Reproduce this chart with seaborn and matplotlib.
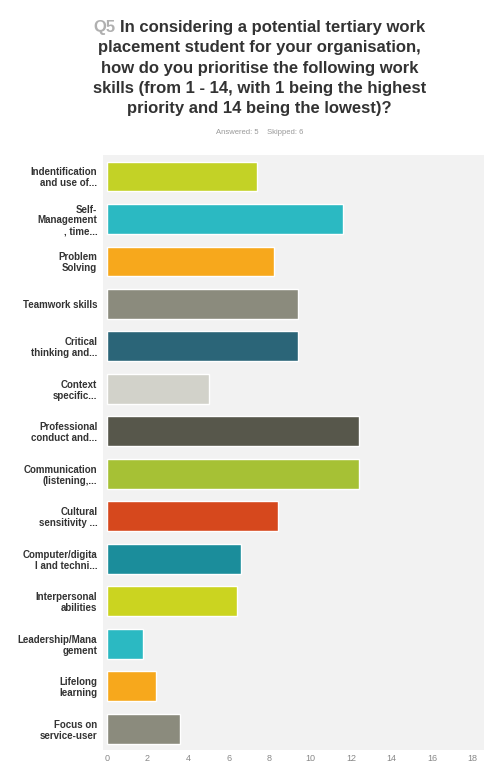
import pandas as pd
import seaborn as sns
import matplotlib.pyplot as plt

# Rótulos das habilidades (como aparecem no gráfico, truncados)
habilidades = [
    'Indentification\nand use of...',
    'Self-\nManagement\n, time...',
    'Problem\nSolving',
    'Teamwork skills',
    'Critical\nthinking and...',
    'Context\nspecific...',
    'Professional\nconduct and...',
    'Communication\n(listening,...',
    'Cultural\nsensitivity ...',
    'Computer/digita\nl and techni...',
    'Interpersonal\nabilities',
    'Leadership/Mana\ngement',
    'Lifelong\nlearning',
    'Focus on\nservice-user',
]
media = [7.4, 11.6, 8.2, 9.4, 9.4, 5.0, 12.4, 12.4, 8.4, 6.6, 6.4, 1.8, 2.4, 3.6]
cores = ['#c3d226', '#2bb9c2', '#f7a81c', '#8b8b7d', '#2b6578', '#d2d2ca', '#57574b',
         '#a6c135', '#d6481d', '#1b8d9b', '#cbd420', '#2bb9c2', '#f7a81c', '#8b8b7d']
ticks_x = [0, 2, 4, 6, 8, 10, 12, 14, 16, 18]

df = pd.DataFrame({'habilidade': habilidades, 'media': media})

sns.set_style('white')
plt.rcParams['font.family'] = ['Liberation Sans', 'DejaVu Sans']

fig = plt.figure(figsize=(4.85, 7.72), dpi=100)
ax = fig.add_axes([0.212, 0.0285, 0.788, 0.7705])
ax.set_facecolor('#f2f2f2')

sns.barplot(data=df, x='media', y='habilidade', hue='habilidade', palette=cores,
            legend=False, width=0.7, ax=ax, saturation=1)

ax.set_xlim(-0.2, 18.6)
ax.set_ylim(13.5, -0.5)
ax.set_xticks(ticks_x)
ax.set_xticklabels([str(t) for t in ticks_x], color='#888888', fontsize=6.5)
ax.tick_params(axis='x', length=0, pad=3)
ax.tick_params(axis='y', length=0, pad=4)
for lbl in ax.get_yticklabels():
    lbl.set_fontsize(7.0)
    lbl.set_fontweight('bold')
    lbl.set_color('#333333')
    lbl.set_linespacing(1.1)
ax.set_xlabel('')
ax.set_ylabel('')
for s in ax.spines.values():
    s.set_visible(False)

# Título: primeira linha com "Q5" em cinza
linhas = ['Q5 In considering a potential tertiary work',
          'placement student for your organisation,',
          'how do you prioritise the following work',
          'skills (from 1 - 14, with 1 being the highest',
          'priority and 14 being the lowest)?']
fs = 12
y0 = 1 - 32 / 772
passo = 20.3 / 772
for i, linha in enumerate(linhas[1:], start=1):
    fig.text(0.535, y0 - i * passo, linha, ha='center', va='baseline',
             fontsize=fs, fontweight='bold', color='#333333')

# mede a largura da primeira linha para posicionar "Q5" e o resto
r = fig.canvas.get_renderer()
tmp = fig.text(0.535, y0, linhas[0], ha='center', va='baseline', fontsize=fs, fontweight='bold')
x_esq = tmp.get_window_extent(r).x0 / fig.bbox.width
tmp.remove()
tmp = fig.text(x_esq, y0, 'Q5 ', ha='left', va='baseline', fontsize=fs, fontweight='bold')
x_resto = tmp.get_window_extent(r).x1 / fig.bbox.width
tmp.remove()

fig.text(x_esq, y0, 'Q5', ha='left', va='baseline', fontsize=fs,
         fontweight='bold', color='#b0b0b0')
fig.text(x_resto, y0, linhas[0][3:], ha='left', va='baseline', fontsize=fs,
         fontweight='bold', color='#333333')

fig.text(0.535, 1 - 134 / 772, 'Answered: 5    Skipped: 6', ha='center', va='baseline',
         fontsize=5.5, color='#999999')

plt.savefig('out.png', dpi=100)
